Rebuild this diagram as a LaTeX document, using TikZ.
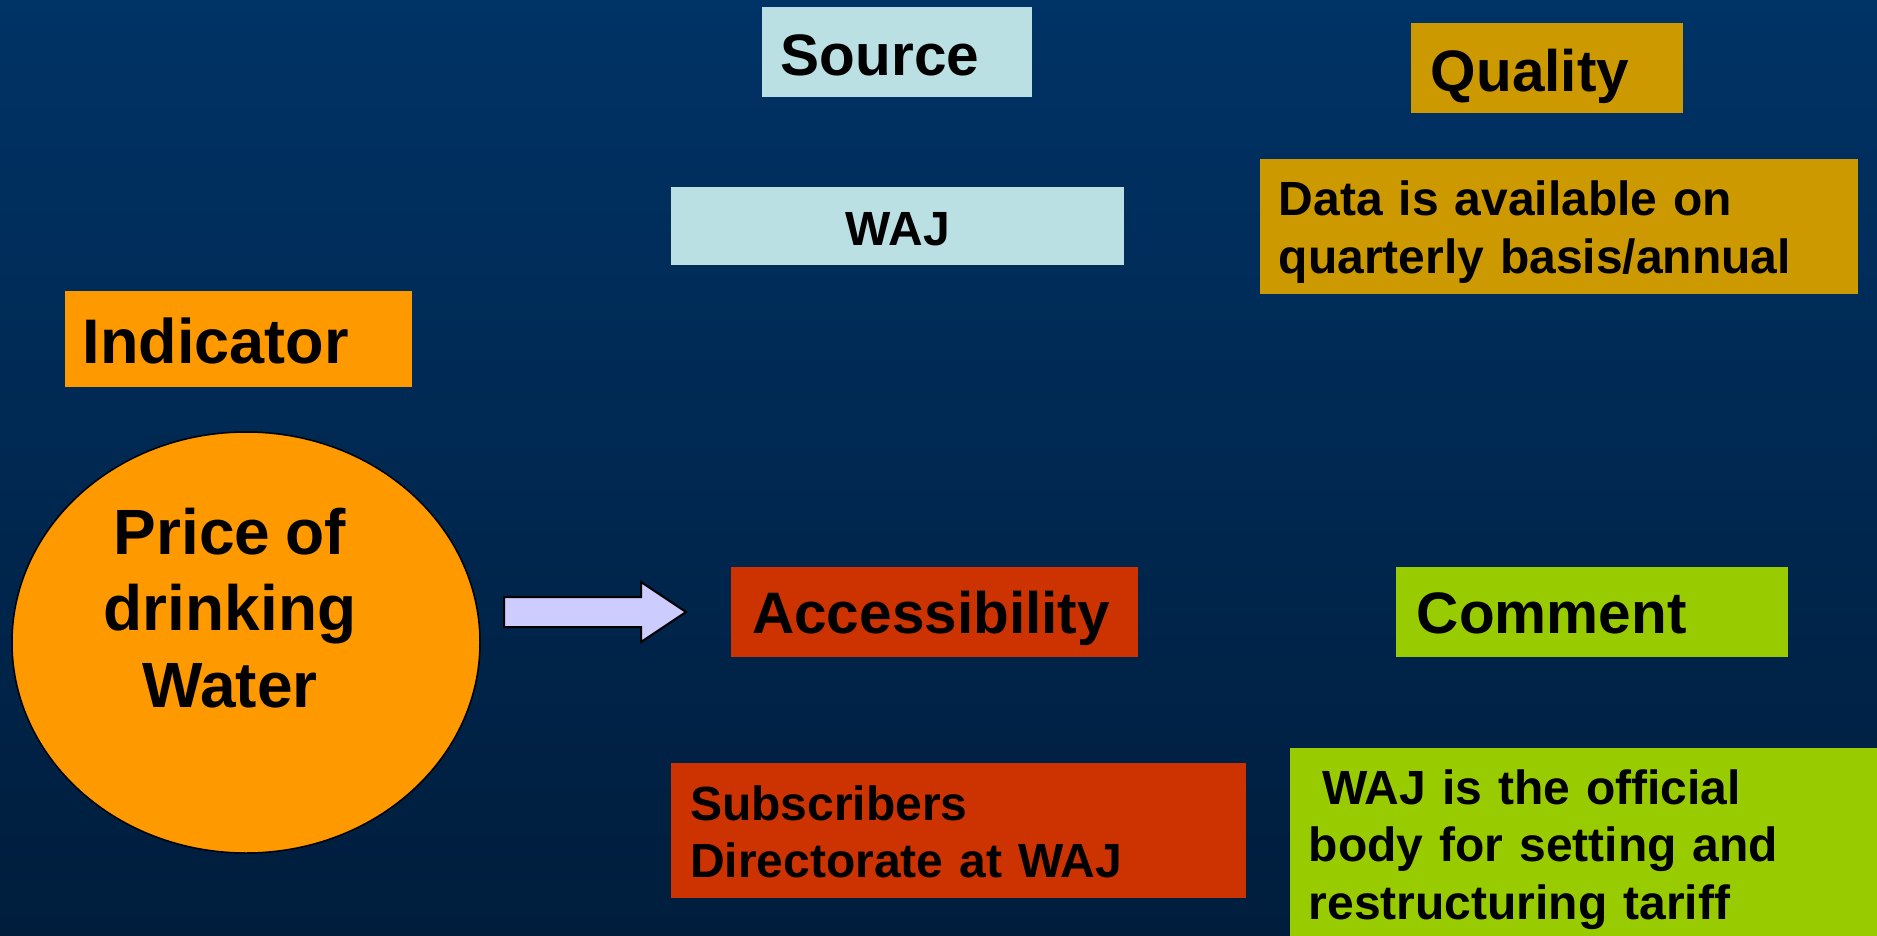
\documentclass[tikz,border=0pt]{standalone}
\usepackage{fontspec}
\setmainfont{Liberation Sans}[WordSpace=0.85]
\usetikzlibrary{shapes.geometric}
\definecolor{bgtop}{RGB}{0,51,102}
\definecolor{bgbot}{RGB}{0,29,60}
\definecolor{cyanbox}{RGB}{187,224,227}
\definecolor{goldbox}{RGB}{204,153,0}
\definecolor{orangebox}{RGB}{255,153,0}
\definecolor{redbox}{RGB}{204,51,0}
\definecolor{greenbox}{RGB}{153,204,0}
\definecolor{lavarrow}{RGB}{204,204,255}
\begin{document}
\begin{tikzpicture}[x=1pt,y=-1pt,
  box/.style={draw=none, rectangle, anchor=north west, inner ysep=0pt, align=left, text=black},
  title/.style={font=\bfseries\fontsize{58.5}{70}\selectfont, text depth=0pt},
  body/.style={font=\bfseries\fontsize{48}{57.5}\selectfont, text height=0pt}]
\useasboundingbox (0,0) rectangle (1877,936);
\shade[top color=bgtop, bottom color=bgbot] (0,0) rectangle (1877,936);

% Source / WAJ
\node[box, title, fill=cyanbox, minimum width=270pt, minimum height=90pt,
      inner xsep=18.6pt, text width=232.8pt, text height=46pt] (source) at (762,7) {Source};
\node[box, fill=cyanbox, minimum width=453pt, minimum height=78pt, align=center,
      inner xsep=20pt, text width=413pt, font=\bfseries\fontsize{48}{58}\selectfont,
      text height=38pt, text depth=0pt] (waj) at (671,187) {WAJ};

% Quality / data
\node[box, title, fill=goldbox, minimum width=272pt, minimum height=90pt,
      inner xsep=19.6pt, text width=232.8pt, text height=46pt] (quality) at (1411,23) {Quality};
\node[box, body, fill=goldbox, minimum width=598pt, minimum height=135pt,
      inner xsep=18.5pt, text width=561pt, text depth=23pt, font=\bfseries\fontsize{48}{58}\selectfont] (data) at (1260,159)
      {Data is available on\\quarterly basis/annual};

% Indicator
\node[box, fill=orangebox, minimum width=347pt, minimum height=96pt,
      inner xsep=17.6pt, text width=311.8pt, font=\bfseries\fontsize{63}{75}\selectfont,
      text height=48pt, text depth=0pt] (indicator) at (65,291) {Indicator};

% Ellipse
\node[ellipse, draw=black, line width=1.5pt, fill=orangebox, inner sep=0pt,
      minimum width=468pt, minimum height=421pt, align=center,
      font=\bfseries\fontsize{64}{76.5}\selectfont, text height=129pt, text depth=0pt]
      (price) at (246,642.5)
      {\hspace*{-32pt}Price of\\\hspace*{-32pt}drinking\\\hspace*{-32pt}Water};

% Block arrow
\draw[line width=2pt, fill=lavarrow, line join=miter]
  (504,597) -- (641,597) -- (641,582) -- (686,612) -- (641,642) -- (641,627) -- (504,627) -- cycle;

% Accessibility / Subscribers
\node[box, title, fill=redbox, minimum width=407pt, minimum height=90pt,
      inner xsep=21pt, text width=365pt, text height=42pt] (access) at (731,567) {Accessibility};
\node[box, body, fill=redbox, minimum width=575pt, minimum height=135pt,
      inner xsep=19pt, text width=537pt, text depth=21pt, font=\bfseries\fontsize{48}{57}\selectfont] (subs) at (671,763)
      {Subscribers\\Directorate at WAJ};

% Comment / official
\node[box, title, fill=greenbox, minimum width=392pt, minimum height=90pt,
      inner xsep=20.6pt, text width=350.8pt, text height=42pt] (comment) at (1396,567) {Comment};
\node[box, body, fill=greenbox, minimum width=587pt, minimum height=188pt,
      inner xsep=18.6pt, text width=549.8pt, text depth=76pt] (official) at (1290,748)
      {\hspace*{0.28em}WAJ is the official\\body for setting and\\restructuring tariff};
\end{tikzpicture}
\end{document}
